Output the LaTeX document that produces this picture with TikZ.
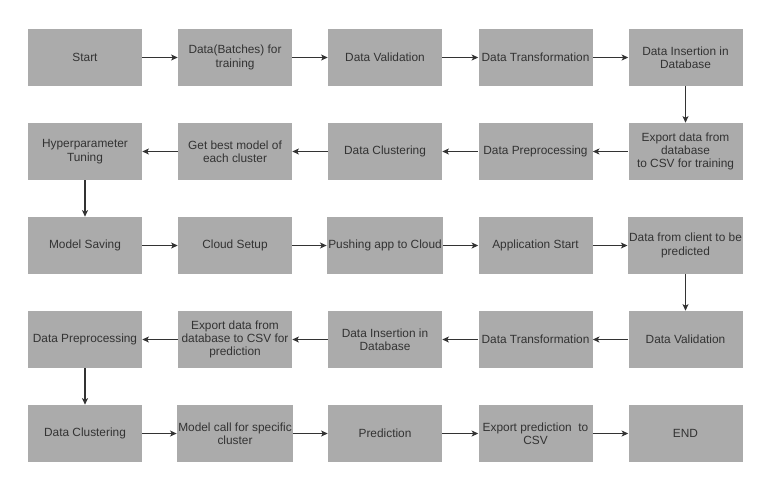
\documentclass[tikz,border=0pt]{standalone}
\usepackage{fontspec}
\setmainfont{Liberation Sans}
\usetikzlibrary{arrows.meta,positioning}
\definecolor{boxgray}{HTML}{ABABAB}
\definecolor{txtgray}{HTML}{333333}
\definecolor{arrgray}{HTML}{333333}
\tikzset{
  stepbox/.style={rectangle, fill=boxgray, draw=none, minimum width=85.5pt, minimum height=42.75pt, inner sep=1pt, align=center, text=txtgray, font=\fontsize{8.9pt}{10pt}\selectfont},
  flow/.style={draw=arrgray, line width=0.8pt, -{Stealth[length=5pt,width=4.5pt,inset=1.3pt]}}
}
\begin{document}
\begin{tikzpicture}[x=0.75pt,y=-0.75pt]
\useasboundingbox (0,0) rectangle (762,483);
% row 1
\node[stepbox] (a1) at (85,57.5) {Start};
\node[stepbox] (a2) at (235,57.5) {Data(Batches) for\\training};
\node[stepbox] (a3) at (385,57.5) {Data Validation};
\node[stepbox] (a4) at (535.5,57.5) {Data Transformation};
\node[stepbox] (a5) at (685.5,57.5) {Data Insertion in\\Database};
% row 2
\node[stepbox] (b5) at (685.5,151.5) {Export data from\\database\\to CSV for training};
\node[stepbox] (b4) at (535.5,151.5) {Data Preprocessing};
\node[stepbox] (b3) at (385,151.5) {Data Clustering};
\node[stepbox] (b2) at (235,151.5) {Get best model of\\each cluster};
\node[stepbox] (b1) at (85,151.5) {Hyperparameter\\Tuning};
% row 3
\node[stepbox] (c1) at (85,245.5) {Model Saving};
\node[stepbox] (c2) at (235,245.5) {Cloud Setup};
\node[stepbox] (c3) at (385,245.5) {Pushing app to Cloud};
\node[stepbox] (c4) at (535.5,245.5) {Application Start};
\node[stepbox] (c5) at (685.5,245.5) {Data from client to be\\predicted};
% row 4
\node[stepbox] (d5) at (685.5,339.5) {Data Validation};
\node[stepbox] (d4) at (535.5,339.5) {Data Transformation};
\node[stepbox] (d3) at (385,339.5) {Data Insertion in\\Database};
\node[stepbox] (d2) at (235,339.5) {Export data from\\database to CSV for\\prediction};
\node[stepbox] (d1) at (85,339.5) {Data Preprocessing};
% row 5
\node[stepbox] (e1) at (85,433.5) {Data Clustering};
\node[stepbox] (e2) at (235,433.5) {Model call for specific\\cluster};
\node[stepbox] (e3) at (385,433.5) {Prediction};
\node[stepbox] (e4) at (535.5,433.5) {Export prediction \ to\\CSV};
\node[stepbox] (e5) at (685.5,433.5) {END};
% connectors
\draw[flow] (a1) -- (a2);
\draw[flow] (a2) -- (a3);
\draw[flow] (a3) -- (a4);
\draw[flow] (a4) -- (a5);
\draw[flow] (a5) -- (b5);
\draw[flow] (b5) -- (b4);
\draw[flow] (b4) -- (b3);
\draw[flow] (b3) -- (b2);
\draw[flow] (b2) -- (b1);
\draw[flow] (b1) -- (c1);
\draw[flow] (c1) -- (c2);
\draw[flow] (c2) -- (c3);
\draw[flow] (c3) -- (c4);
\draw[flow] (c4) -- (c5);
\draw[flow] (c5) -- (d5);
\draw[flow] (d5) -- (d4);
\draw[flow] (d4) -- (d3);
\draw[flow] (d3) -- (d2);
\draw[flow] (d2) -- (d1);
\draw[flow] (d1) -- (e1);
\draw[flow] (e1) -- (e2);
\draw[flow] (e2) -- (e3);
\draw[flow] (e3) -- (e4);
\draw[flow] (e4) -- (e5);
\end{tikzpicture}
\end{document}
